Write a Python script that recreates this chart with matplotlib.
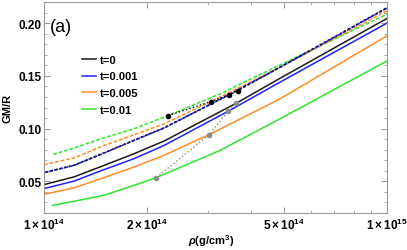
import matplotlib
matplotlib.use("Agg")
import matplotlib.pyplot as plt
from matplotlib.ticker import FixedLocator, FixedFormatter, NullFormatter

plt.rcParams['font.family'] = ['Liberation Sans', 'DejaVu Sans']
plt.rcParams['mathtext.fontset'] = 'custom'
plt.rcParams['mathtext.rm'] = 'Liberation Sans:bold'
plt.rcParams['mathtext.bf'] = 'Liberation Sans:bold'
plt.rcParams['mathtext.it'] = 'Liberation Sans:italic:bold'

# densidade em unidades de 1e14 g/cm3 (ramos solidos)
rho_t0 = [1.0, 1.223, 1.496, 1.830, 2.238, 3.629, 4.877, 10.0]
gm_t0 = [0.0469, 0.0542, 0.0651, 0.0762, 0.0882, 0.1239, 0.1477, 0.2044]
rho_t1 = [1.0, 1.223, 1.496, 1.830, 2.238, 3.446, 4.877, 10.0]
gm_t1 = [0.0431, 0.0502, 0.0611, 0.0715, 0.0840, 0.1165, 0.1440, 0.2000]
rho_t5 = [1.0, 1.223, 1.496, 1.830, 2.238, 3.034, 4.877, 10.0]
gm_t5 = [0.0377, 0.0438, 0.0535, 0.0636, 0.0746, 0.0944, 0.1282, 0.1880]
rho_t10 = [1.057, 1.223, 1.496, 1.830, 2.125, 3.260, 4.877, 10.0]
gm_t10 = [0.0273, 0.0311, 0.0368, 0.0462, 0.0535, 0.0793, 0.1093, 0.1641]

# ramos tracejados
rho_d0 = [1.0, 1.223, 1.496, 1.830, 2.238, 3.671, 4.877, 10.0]
gm_d0 = [0.0584, 0.0653, 0.0770, 0.0890, 0.1007, 0.1360, 0.1583, 0.2147]
rho_d1 = [1.0, 1.223, 1.496, 1.830, 2.238, 3.463, 4.877, 10.0]
gm_d1 = [0.0582, 0.0651, 0.0768, 0.0888, 0.1005, 0.1322, 0.1581, 0.2142]
rho_d5 = [1.0, 1.223, 1.496, 1.830, 2.238, 3.062, 4.877, 10.0]
gm_d5 = [0.0658, 0.0721, 0.0840, 0.0941, 0.1045, 0.1256, 0.1581, 0.2116]
rho_d10 = [1.064, 1.223, 1.496, 1.830, 2.304, 3.260, 4.877, 10.0]
gm_d10 = [0.0755, 0.0816, 0.0913, 0.0998, 0.1124, 0.1329, 0.1603, 0.2085]

# pontos de maximo
rho_max_solid = [2.125, 3.034, 3.446, 3.629]
gm_max_solid = [0.0535, 0.0944, 0.1165, 0.1239]
rho_max_dash = [2.304, 3.062, 3.463, 3.671]
gm_max_dash = [0.1124, 0.1256, 0.1322, 0.1360]

labels = ['t=0', 't=0.001', 't=0.005', 't=0.01']
cores = ['#1a1a1a', '#2020ff', '#ff8c26', '#2ee62e']

fig = plt.figure(figsize=(4.07, 2.51), dpi=100)
ax = fig.add_axes([44 / 407, 37 / 251, 343 / 407, 211 / 251])

def e14(v):
    return [x * 1e14 for x in v]

solidos = [(rho_t0, gm_t0), (rho_t1, gm_t1), (rho_t5, gm_t5), (rho_t10, gm_t10)]

for (r, g), c, lab in zip(solidos, cores, labels):
    ax.plot(e14(r), g, color=c, lw=1.1, label=lab)

# tracejados: verde, laranja, azul e o preto por cima do azul (alternado)
ax.plot(e14(rho_d10), gm_d10, color=cores[3], lw=1.1, dashes=(2.5, 1.2))
ax.plot(e14(rho_d5), gm_d5, color=cores[2], lw=1.1, dashes=(2.5, 1.2))
ax.plot(e14(rho_d1), gm_d1, color=cores[1], lw=1.2, dashes=(2.5, 0.6))
ax.plot(e14(rho_d0), gm_d0, color=cores[0], lw=1.1, linestyle=(1.5, (1.4, 1.6)))

ax.plot(e14(rho_max_solid), gm_max_solid, ':', color='#8c8c8c', lw=1.0,
        marker='o', ms=3, mfc='#8c8c8c', mec='#8c8c8c')
ax.plot(e14(rho_max_dash), gm_max_dash, ':', color='black', lw=1.0,
        marker='o', ms=3, mfc='black', mec='black')

ax.set_xscale('log')
ax.set_xlim(1e14, 1e15)
ax.set_ylim(0.02, 0.22)

ax.xaxis.set_major_locator(FixedLocator([1e14, 2e14, 5e14, 1e15]))
ax.xaxis.set_major_formatter(FixedFormatter([r'$1\times10^{14}$', r'$2\times10^{14}$',
                                             r'$5\times10^{14}$', r'$1\times10^{15}$']))
ax.xaxis.set_minor_locator(FixedLocator([3e14, 4e14, 6e14, 7e14, 8e14, 9e14]))
ax.xaxis.set_minor_formatter(NullFormatter())
ax.yaxis.set_major_locator(FixedLocator([0.05, 0.10, 0.15, 0.20]))
ax.yaxis.set_major_formatter(FixedFormatter(['0.05', '0.10', '0.15', '0.20']))
ax.yaxis.set_minor_locator(FixedLocator([0.02 + 0.01 * i for i in range(21)]))

ax.tick_params(which='both', direction='in', top=True, right=True, color='#999999',
               labelsize=8.5)
ax.tick_params(axis='y', pad=1.5)
ax.tick_params(axis='x', pad=3)
ax.tick_params(which='major', length=4, width=0.7)
ax.tick_params(which='minor', length=2, width=0.6)
for lab in ax.get_yticklabels():
    lab.set_fontweight('bold')
for s in ax.spines.values():
    s.set_color('#999999')
    s.set_linewidth(0.8)

ax.set_xlabel(r'$\rho$(g/cm$^3$)', fontsize=8, fontweight='bold', va='center')
ax.xaxis.set_label_coords(0.487, -0.13)
ax.set_ylabel('GM/R', fontsize=8, fontweight='bold', va='center')
ax.yaxis.set_label_coords(-0.105, 0.5)

ax.text(0.0175, 0.885, '(a)', transform=ax.transAxes, fontsize=13, va='center', ha='left')

leg = ax.legend(loc='upper left', bbox_to_anchor=(0.111, 0.75), frameon=False,
                prop={'size': 8, 'weight': 'bold'}, handlelength=1.26, handletextpad=0.36,
                labelspacing=0.6, borderaxespad=0, borderpad=0)

fig.savefig('out.png', dpi=100)
